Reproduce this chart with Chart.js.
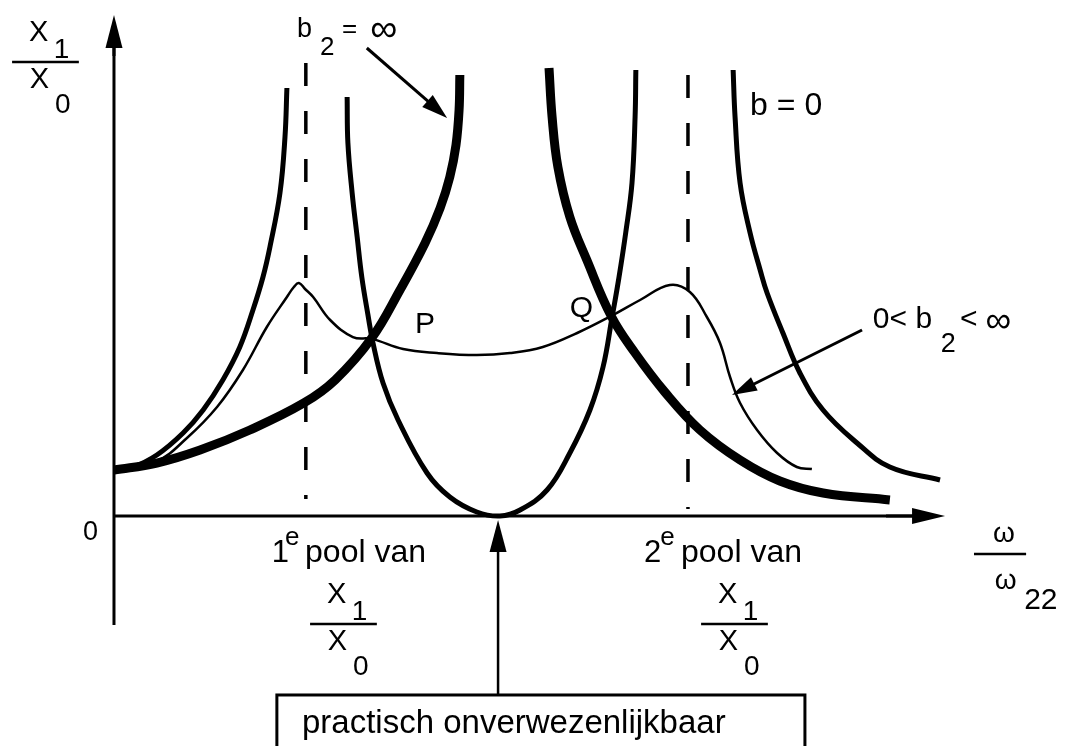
<!DOCTYPE html>
<html>
<head>
<meta charset="utf-8">
<title>X1/X0 tegen ω/ω22</title>
<script src="https://cdn.jsdelivr.net/npm/chart.js@4/dist/chart.umd.min.js"></script>
<style>
  html, body { margin: 0; padding: 0; background: #fff; }
  canvas { display: block; }
</style>
</head>
<body>
<canvas id="chart" width="1072" height="746"></canvas>
<script>
// Amplitude ratio X1/X0 against frequency ratio ω/ω22, as [ω/ω22, X1/X0] pairs.

// b = 0 (undamped): branch below the 1st pole
const undampedLow = [[0, 1.0], [0.049, 1.065], [0.111, 1.326], [0.179, 1.804], [0.231, 2.304],
  [0.282, 2.957], [0.326, 3.674], [0.360, 4.478], [0.386, 5.196], [0.404, 5.848],
  [0.430, 7.022], [0.443, 8.239], [0.448, 9.304]];

// b = 0: branch between the poles, touching zero at ω/ω22 = 1
const undampedMid = [[0.604, 9.109], [0.606, 8.109], [0.617, 7.022], [0.630, 6.065], [0.642, 5.196],
  [0.658, 4.370], [0.671, 3.761], [0.697, 2.891], [0.736, 2.087], [0.811, 0.935],
  [0.870, 0.413], [0.940, 0.087], [1.0, 0], [1.052, 0.130], [1.122, 0.565],
  [1.181, 1.370], [1.233, 2.304], [1.267, 3.239], [1.290, 4.304], [1.308, 5.174],
  [1.326, 6.174], [1.342, 7.239], [1.350, 8.674], [1.352, 9.696]];

// b = 0: branch above the 2nd pole
const undampedHigh = [[1.604, 9.696], [1.609, 8.674], [1.622, 7.239], [1.648, 6.152], [1.674, 5.348],
  [1.692, 4.848], [1.733, 3.978], [1.777, 3.109], [1.837, 2.304], [1.925, 1.587],
  [2.010, 1.065], [2.140, 0.783]];

// b2 = ∞ (rigid coupling): below and above its single resonance
const rigidLow = [[0, 1.0], [0.111, 1.152], [0.223, 1.435], [0.352, 1.870], [0.492, 2.457],
  [0.573, 2.957], [0.668, 3.870], [0.741, 4.913], [0.806, 5.935], [0.845, 6.696],
  [0.870, 7.370], [0.886, 8.065], [0.894, 8.826], [0.896, 9.587]];

const rigidHigh = [[1.127, 9.739], [1.135, 8.674], [1.150, 7.587], [1.181, 6.500], [1.225, 5.565],
  [1.288, 4.348], [1.350, 3.543], [1.427, 2.696], [1.518, 1.870], [1.622, 1.217],
  [1.725, 0.761], [1.837, 0.500], [2.010, 0.348]];

// 0 < b2 < ∞ (finite damping), passing through P and Q
const damped = [[0, 1.0], [0.111, 1.196], [0.189, 1.696], [0.267, 2.370], [0.334, 3.174],
  [0.396, 4.109], [0.448, 4.761], [0.466, 4.978], [0.479, 5.065], [0.495, 4.935],
  [0.516, 4.761], [0.560, 4.261], [0.619, 3.891], [0.668, 3.850], [0.749, 3.630],
  [0.837, 3.543], [0.940, 3.500], [1.026, 3.543], [1.111, 3.674], [1.200, 3.978],
  [1.288, 4.348], [1.363, 4.696], [1.440, 5.022], [1.492, 4.870], [1.536, 4.326],
  [1.570, 3.761], [1.596, 3.022], [1.622, 2.457], [1.666, 1.870], [1.718, 1.370],
  [1.769, 1.065], [1.808, 1.022]];

// Pole positions of X1/X0 (dashed verticals)
const poles = [0.497, 1.487];
const poleTop = [9.848, 9.587];
const poleBottom = [0.37, 0.15];

const FONT = '"Liberation Sans", Arial, Helvetica, sans-serif';
const INK = '#000';

const toXY = pairs => pairs.map(([x, y]) => ({ x, y }));

function curve(data, width) {
  return {
    data: toXY(data),
    showLine: true,
    borderColor: INK,
    borderWidth: width,
    pointRadius: 0,
    fill: false,
    tension: 0.4
  };
}

function poleLine(i) {
  return {
    data: [{ x: poles[i], y: poleTop[i] }, { x: poles[i], y: poleBottom[i] }],
    showLine: true,
    borderColor: INK,
    borderWidth: 3.5,
    borderDash: [23, 25],
    pointRadius: 0,
    tension: 0,
    fill: false
  };
}

// Axes, arrows, text and the boxed note, all placed through the chart's scales
const diagramLayer = {
  id: 'diagramLayer',
  beforeDatasetsDraw(chart) {
    const { ctx } = chart;
    const X = v => chart.scales.x.getPixelForValue(v);
    const Y = v => chart.scales.y.getPixelForValue(v);
    ctx.save();
    ctx.strokeStyle = INK;
    ctx.lineWidth = 3;
    ctx.beginPath();
    ctx.moveTo(X(0), Y(-2.37));
    ctx.lineTo(X(0), Y(10.3));
    ctx.moveTo(X(0), Y(0));
    ctx.lineTo(X(2.10), Y(0));
    ctx.stroke();
    ctx.restore();
  },
  afterDatasetsDraw(chart) {
    const { ctx } = chart;
    const X = v => chart.scales.x.getPixelForValue(v);
    const Y = v => chart.scales.y.getPixelForValue(v);

    function arrow(x1, y1, x2, y2, lw, headLen, headHalf) {
      const ax = X(x1), ay = Y(y1), bx = X(x2), by = Y(y2);
      const ang = Math.atan2(by - ay, bx - ax);
      const cx = bx - Math.cos(ang) * headLen, cy = by - Math.sin(ang) * headLen;
      ctx.lineWidth = lw;
      ctx.beginPath();
      ctx.moveTo(ax, ay);
      ctx.lineTo(cx + Math.cos(ang) * 2, cy + Math.sin(ang) * 2);
      ctx.stroke();
      ctx.beginPath();
      ctx.moveTo(bx, by);
      ctx.lineTo(cx + Math.sin(ang) * headHalf, cy - Math.cos(ang) * headHalf);
      ctx.lineTo(cx - Math.sin(ang) * headHalf, cy + Math.cos(ang) * headHalf);
      ctx.closePath();
      ctx.fill();
    }
    function text(s, x, y, size) {
      ctx.font = size + 'px ' + FONT;
      ctx.textAlign = 'left';
      ctx.textBaseline = 'alphabetic';
      ctx.fillText(s, X(x), Y(y));
    }
    function bar(x1, x2, y, lw) {
      ctx.lineWidth = lw;
      ctx.beginPath();
      ctx.moveTo(X(x1), Y(y));
      ctx.lineTo(X(x2), Y(y));
      ctx.stroke();
    }
    function ratio(x, y) {
      // stacked X1 over X0 with a fraction bar; (x, y) = left end of the bar
      text('X', x + 0.044, y + 0.457, 29);
      text('1', x + 0.108, y + 0.087, 28);
      bar(x, x + 0.173, y, 2.5);
      text('X', x + 0.046, y - 0.565, 29);
      text('0', x + 0.111, y - 1.109, 28);
    }

    ctx.save();
    ctx.fillStyle = INK;
    ctx.strokeStyle = INK;
    ctx.lineCap = 'butt';

    // axis arrow heads
    arrow(0, 10.0, 0, 10.891, 3, 33, 8.5);
    arrow(2.0, 0, 2.153, 0, 3, 33, 8);

    // vertical axis label X1/X0
    ratio(-0.264, 9.870);

    // origin
    text('0', -0.080, -0.522, 27);

    // b2 = ∞ label and pointer
    text('b', 0.474, 10.413, 27);
    text('2', 0.534, 10.022, 26);
    text('=', 0.591, 10.413, 26);
    text('∞', 0.664, 10.326, 38);
    arrow(0.655, 10.174, 0.863, 8.652, 3, 26, 8);

    // b = 0 label
    text('b = 0', 1.648, 8.717, 32);

    // crossing points
    text('P', 0.780, 3.978, 30);
    text('Q', 1.181, 4.326, 30);

    // 0 < b2 < ∞ label and pointer
    text('0< b', 1.966, 4.087, 30);
    text('2', 2.142, 3.565, 27);
    text('<', 2.192, 4.087, 30);
    text('∞', 2.258, 4.000, 36);
    arrow(1.938, 4.043, 1.601, 2.630, 3, 25, 7.5);

    // pole captions
    text('1', 0.409, -1.0, 31);
    text('e', 0.443, -0.630, 26);
    text('pool van', 0.495, -1.0, 32);
    ratio(0.508, -2.348);

    text('2', 1.373, -1.0, 31);
    text('e', 1.415, -0.630, 26);
    text('pool van', 1.469, -1.0, 32);
    ratio(1.521, -2.348);

    // horizontal axis label ω/ω22
    text('ω', 2.277, -0.565, 28);
    bar(2.228, 2.363, -0.826, 2.5);
    text('ω', 2.282, -1.587, 28);
    text('22', 2.358, -2.022, 30);

    // boxed note with pointer to the anti-resonance
    arrow(0.995, -3.891, 0.995, -0.087, 2.5, 32, 8.5);
    ctx.lineWidth = 3;
    ctx.strokeRect(X(0.422), Y(-3.891), X(1.790) - X(0.422), Y(-5.304) - Y(-3.891));
    text('practisch onverwezenlijkbaar', 0.487, -4.717, 33);

    ctx.restore();
  }
};

new Chart(document.getElementById('chart'), {
  type: 'scatter',
  data: {
    datasets: [
      curve(rigidLow, 9),
      curve(rigidHigh, 9),
      curve(undampedLow, 5),
      curve(undampedMid, 5),
      curve(undampedHigh, 5),
      curve(damped, 2.5),
      poleLine(0),
      poleLine(1)
    ]
  },
  options: {
    responsive: false,
    animation: false,
    events: [],
    layout: { padding: 0 },
    plugins: { legend: { display: false }, tooltip: { enabled: false } },
    scales: {
      x: { type: 'linear', display: false, min: -0.2953, max: 2.4819 },
      y: { type: 'linear', display: false, min: -5, max: 11.2174 }
    },
    elements: { line: { borderCapStyle: 'butt', borderJoinStyle: 'round' } }
  },
  plugins: [diagramLayer]
});
</script>
</body>
</html>
